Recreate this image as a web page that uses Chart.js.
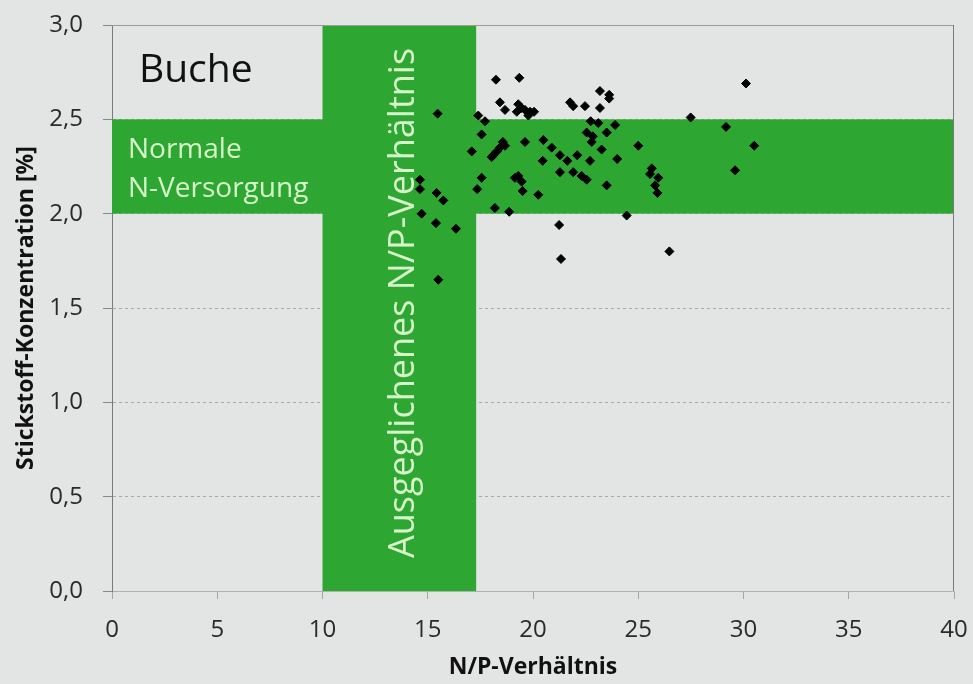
<!DOCTYPE html>
<html>
<head>
<meta charset="utf-8">
<script src="https://cdn.jsdelivr.net/npm/chart.js@4.4.1/dist/chart.umd.min.js"></script>
<style>
  html, body { margin: 0; padding: 0; background: #e3e5e4; }
  #wrap { width: 973px; height: 684px; }
</style>
</head>
<body>
<div id="wrap"><canvas id="chart" width="973" height="684"></canvas></div>
<script>
// N/P-Verhältnis (x) und Stickstoff-Konzentration in % (y), je ein Wert pro Probe
const npValues = [
  15.47, 18.24, 19.35, 18.43, 18.67, 19.30, 19.46, 19.23, 19.62, 19.86,
  20.05, 19.78, 17.40, 17.72, 17.56, 17.09, 18.57, 18.67, 18.43, 18.28,
  18.11, 18.04, 19.62, 20.49, 20.46, 17.56, 17.35, 19.30, 19.46, 19.14,
  19.51, 20.25, 18.19, 18.87, 23.18, 23.62, 23.62, 21.76, 21.91, 22.47,
  23.18, 22.74, 23.10, 23.90, 23.50, 22.55, 22.84, 22.79, 20.89, 23.26,
  21.28, 21.63, 22.10, 22.71, 24.00, 21.28, 21.91, 22.31, 22.55, 23.50,
  21.24, 21.33, 14.63, 14.63, 15.42, 15.74, 14.71, 15.39, 16.34, 15.50,
  30.12, 27.49, 29.17, 30.51, 29.60, 25.00, 25.64, 25.56, 25.95, 25.80,
  25.91, 24.45, 26.48
];
const nValues = [
  2.53, 2.71, 2.72, 2.59, 2.55, 2.58, 2.56, 2.54, 2.55, 2.54,
  2.54, 2.52, 2.52, 2.49, 2.42, 2.33, 2.38, 2.36, 2.35, 2.33,
  2.31, 2.30, 2.38, 2.39, 2.28, 2.19, 2.13, 2.20, 2.17, 2.19,
  2.12, 2.10, 2.03, 2.01, 2.65, 2.63, 2.61, 2.59, 2.57, 2.57,
  2.56, 2.49, 2.48, 2.47, 2.43, 2.43, 2.41, 2.38, 2.35, 2.34,
  2.31, 2.28, 2.31, 2.28, 2.29, 2.22, 2.22, 2.20, 2.18, 2.15,
  1.94, 1.76, 2.18, 2.13, 2.11, 2.07, 2.00, 1.95, 1.92, 1.65,
  2.69, 2.51, 2.46, 2.36, 2.23, 2.36, 2.24, 2.21, 2.19, 2.15,
  2.11, 1.99, 1.80
];
const xTicks = [0, 5, 10, 15, 20, 25, 30, 35, 40];
const yTicks = [0, 0.5, 1.0, 1.5, 2.0, 2.5, 3.0];

// Bereiche: ausgeglichenes N/P-Verhältnis und normale N-Versorgung
const npBand = [10, 17.3];
const nBand = [2.0, 2.5];

const GREEN = '#2ea632';
const LIGHT = '#d6f5cb';
const FONT = "'Open Sans', sans-serif";

const points = npValues.map((v, i) => ({ x: v, y: nValues[i] }));
const comma = v => v.toFixed(1).replace('.', ',');

// Achsen auf feste Größe bringen, ohne dass Chart.js zusätzlichen Rand einbaut
function fixScale(prop, size) {
  return s => {
    s[prop] = size;
    s.paddingTop = s.paddingBottom = s.paddingLeft = s.paddingRight = 0;
  };
}

// Hintergrund-Bänder, Rahmen und Beschriftungen im Diagramm
const bandsPlugin = {
  id: 'bands',
  beforeDatasetsDraw(chart) {
    const { ctx, chartArea: a, scales: { x, y } } = chart;
    ctx.save();
    ctx.fillStyle = GREEN;
    const yTop = y.getPixelForValue(nBand[1]);
    const yBot = y.getPixelForValue(nBand[0]);
    ctx.fillRect(a.left, yTop, a.right - a.left, yBot - yTop);
    const xl = x.getPixelForValue(npBand[0]);
    const xr = x.getPixelForValue(npBand[1]);
    ctx.fillRect(xl, a.top, xr - xl, a.bottom - a.top);

    // Rahmen oben / rechts
    ctx.strokeStyle = '#9a9a9a';
    ctx.lineWidth = 1;
    ctx.beginPath();
    ctx.moveTo(a.left, a.top + 0.5);
    ctx.lineTo(a.right, a.top + 0.5);
    ctx.stroke();
    ctx.strokeStyle = '#7a7a7a';
    ctx.beginPath();
    ctx.moveTo(a.right - 0.5, a.top);
    ctx.lineTo(a.right - 0.5, a.bottom);
    ctx.stroke();

    ctx.textBaseline = 'alphabetic';
    ctx.textAlign = 'left';
    ctx.fillStyle = '#111';
    ctx.font = '39px ' + FONT;
    ctx.fillText('Buche', a.left + 27, a.top + 57);

    ctx.fillStyle = LIGHT;
    ctx.font = '28px ' + FONT;
    ctx.fillText('Normale', a.left + 16, yTop + 39);
    ctx.fillText('N-Versorgung', a.left + 16, yTop + 78);

    ctx.translate((xl + xr) / 2 + 15, (a.top + a.bottom) / 2 - 5);
    ctx.rotate(-Math.PI / 2);
    ctx.textAlign = 'center';
    ctx.font = '36px ' + FONT;
    ctx.fillText('Ausgeglichenes N/P-Verhältnis', 0, 0);
    ctx.restore();
  }
};

new Chart(document.getElementById('chart'), {
  type: 'scatter',
  data: {
    datasets: [{
      data: points,
      pointStyle: 'rectRot',
      pointRadius: 4.5,
      backgroundColor: '#000',
      borderColor: '#000',
      borderWidth: 1
    }]
  },
  options: {
    responsive: false,
    animation: false,
    devicePixelRatio: 1,
    layout: { padding: { left: 0, right: 19, top: 25, bottom: 0 } },
    plugins: { legend: { display: false }, tooltip: { enabled: false } },
    scales: {
      x: {
        type: 'linear',
        min: 0,
        max: 40,
        afterBuildTicks: s => { s.ticks = xTicks.map(v => ({ value: v })); },
        afterFit: fixScale('height', 93),
        grid: { drawOnChartArea: false, tickLength: 8, tickColor: '#a5a5a5' },
        border: { color: '#b0b0b0', width: 1 },
        ticks: { padding: 17, color: '#2a2a2a', font: { family: FONT, size: 24 }, maxRotation: 0 },
        title: {
          display: true,
          text: 'N/P-Verhältnis',
          color: '#111',
          font: { family: FONT, size: 23, weight: 'bold' },
          padding: { top: 0, bottom: 3 }
        }
      },
      y: {
        min: 0,
        max: 3,
        afterBuildTicks: s => { s.ticks = yTicks.map(v => ({ value: v })); },
        afterFit: fixScale('width', 112),
        grid: { color: '#a8a8a8', tickLength: 9, tickColor: '#8a8a8a', tickBorderDash: [] },
        border: { color: '#7a7a7a', width: 1, dash: [3, 3] },
        ticks: {
          padding: 20,
          color: '#2a2a2a',
          font: { family: FONT, size: 24 },
          callback: v => comma(v)
        },
        title: {
          display: true,
          text: 'Stickstoff-Konzentration [%]',
          color: '#111',
          font: { family: FONT, size: 23, weight: 'bold' },
          padding: { top: 13, bottom: 0 }
        }
      }
    }
  },
  plugins: [bandsPlugin]
});
</script>
</body>
</html>
